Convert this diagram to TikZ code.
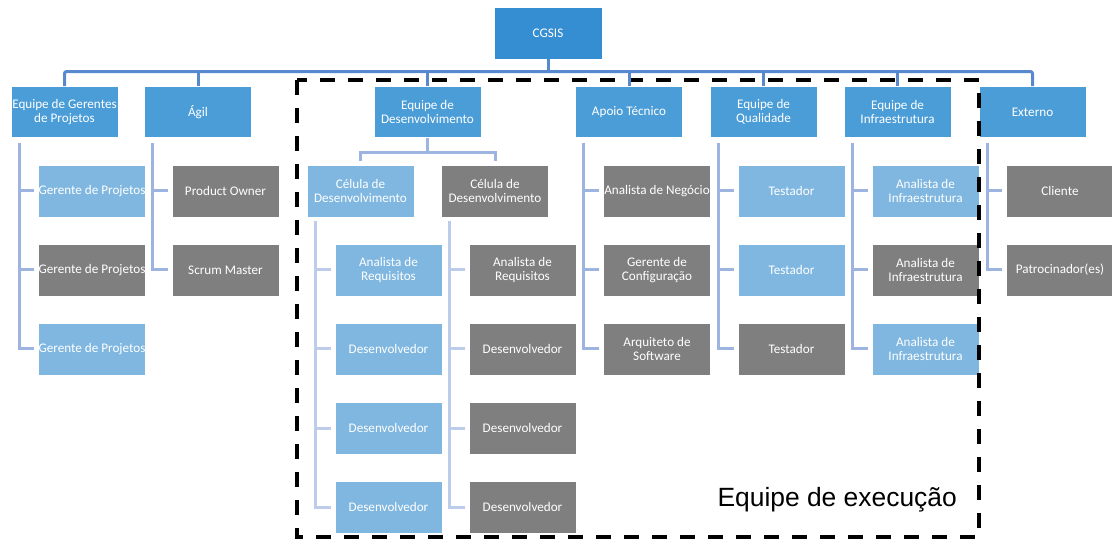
\documentclass[tikz,border=0pt]{standalone}
\usepackage{fontspec}
\setmainfont{Carlito}
\newfontfamily\arialfont{Liberation Sans}
\definecolor{topblue}{RGB}{54,142,210}
\definecolor{midblue}{RGB}{75,157,216}
\definecolor{lightblue}{RGB}{127,183,224}
\definecolor{boxgray}{RGB}{127,127,127}
\definecolor{busline}{RGB}{88,137,206}
\definecolor{childline}{RGB}{157,180,224}
\definecolor{cellline}{RGB}{189,204,234}
\tikzset{
  box/.style={draw=white, line width=0.8bp, text=white, align=center,
    minimum width=107bp, minimum height=52bp, inner xsep=0bp, inner ysep=1bp,
    font=\fontsize{13.2}{14.5}\selectfont},
  topbox/.style={box, fill=topblue, minimum width=108bp},
  lvlbox/.style={box, fill=midblue, minimum height=51bp},
  bluebox/.style={box, fill=lightblue},
  graybox/.style={box, fill=boxgray},
  bus/.style={draw=busline, line width=3bp},
  childl/.style={draw=childline, line width=3bp, shorten >=4bp},
  celll/.style={draw=cellline, line width=3bp, shorten >=4bp},
  execframe/.style={draw=black, line width=4bp, dash pattern=on 15bp off 13bp},
}
\begin{document}
\begin{tikzpicture}[x=1bp,y=-1bp]
\useasboundingbox (0,0) rectangle (1112,539);

% top
\node[topbox] (cgsis) at (548,33) {CGSIS};

% level 1
\node[lvlbox] (ger)   at (64.5,112)  {Equipe de Gerentes\\de Projetos};
\node[lvlbox] (agil)  at (198,112)   {Ágil};
\node[lvlbox] (dev)   at (427.5,112) {Equipe de\\Desenvolvimento};
\node[lvlbox] (apoio) at (629,112)   {Apoio Técnico};
\node[lvlbox] (qual)  at (763.5,112) {Equipe de\\Qualidade};
\node[lvlbox] (infra) at (897.5,112) {Equipe de\\Infraestrutura};
\node[lvlbox] (ext)   at (1032.5,112) {Externo};

% Gerentes
\node[bluebox] (g1) at (92,191) {Gerente de Projetos};
\node[graybox] (g2) at (92,270) {Gerente de Projetos};
\node[bluebox] (g3) at (92,349) {Gerente de Projetos};

% Agil
\node[graybox] (po) at (225.5,191) {Product Owner};
\node[graybox] (sm) at (225.5,270) {Scrum Master};

% Desenvolvimento cells
\node[bluebox] (c1) at (360.5,191) {Célula de\\Desenvolvimento};
\node[graybox] (c2) at (495,191)   {Célula de\\Desenvolvimento};

\node[bluebox] (c1a) at (388.5,270) {Analista de\\Requisitos};
\node[bluebox] (c1b) at (388.5,349) {Desenvolvedor};
\node[bluebox] (c1c) at (388.5,428) {Desenvolvedor};
\node[bluebox] (c1d) at (388.5,507) {Desenvolvedor};

\node[graybox] (c2a) at (522.5,270) {Analista de\\Requisitos};
\node[graybox] (c2b) at (522.5,349) {Desenvolvedor};
\node[graybox] (c2c) at (522.5,428) {Desenvolvedor};
\node[graybox] (c2d) at (522.5,507) {Desenvolvedor};

% Apoio
\node[graybox] (a1) at (657,191) {Analista de Negócio};
\node[graybox] (a2) at (657,270) {Gerente de\\Configuração};
\node[graybox] (a3) at (657,349) {Arquiteto de\\Software};

% Qualidade
\node[bluebox] (q1) at (791.5,191) {Testador};
\node[bluebox] (q2) at (791.5,270) {Testador};
\node[graybox] (q3) at (791.5,349) {Testador};

% Infra
\node[bluebox] (i1) at (925.5,191) {Analista de\\Infraestrutura};
\node[graybox] (i2) at (925.5,270) {Analista de\\Infraestrutura};
\node[bluebox] (i3) at (925.5,349) {Analista de\\Infraestrutura};

% Externo
\node[graybox] (e1) at (1060,191) {Cliente};
\node[graybox] (e2) at (1060,270) {Patrocinador(es)};

% execution team frame
\draw[execframe] (297,80) rectangle (979,537);
\node[anchor=base east, inner sep=0pt, font=\arialfont\fontsize{26.5}{30}\selectfont] (exec) at (957,506) {Equipe de execução};

% bus
\draw[bus] (cgsis.south) -- ++(0,13.5);
\draw[bus, rounded corners=2bp] (ger.north) -- ++(0,-14.5) -| (ext.north);
\foreach \n in {agil,dev,apoio,qual,infra}
  \draw[bus] (\n.north) -- ++(0,-14.5);

% child connectors
\foreach \c in {g1,g2,g3}
  \draw[childl] ([xshift=8.5bp,yshift=-5bp]ger.south west) |- (\c.west);
\foreach \c in {po,sm}
  \draw[childl] ([xshift=8.5bp,yshift=-5bp]agil.south west) |- (\c.west);
\foreach \c in {a1,a2,a3}
  \draw[childl] ([xshift=8.5bp,yshift=-5bp]apoio.south west) |- (\c.west);
\foreach \c in {q1,q2,q3}
  \draw[childl] ([xshift=8.5bp,yshift=-5bp]qual.south west) |- (\c.west);
\foreach \c in {i1,i2,i3}
  \draw[childl] ([xshift=8.5bp,yshift=-5bp]infra.south west) |- (\c.west);
\foreach \c in {e1,e2}
  \draw[childl] ([xshift=8.5bp,yshift=-5bp]ext.south west) |- (\c.west);

% cell bracket
\draw[childl] (dev.south) -- ++(0,15) -| (c1.north);
\draw[childl] (dev.south) -- ++(0,15) -| (c2.north);

% cell children
\foreach \c in {c1a,c1b,c1c,c1d}
  \draw[celll] ([xshift=8.5bp,yshift=-4bp]c1.south west) |- (\c.west);
\foreach \c in {c2a,c2b,c2c,c2d}
  \draw[celll] ([xshift=8.5bp,yshift=-4bp]c2.south west) |- (\c.west);
\end{tikzpicture}
\end{document}
